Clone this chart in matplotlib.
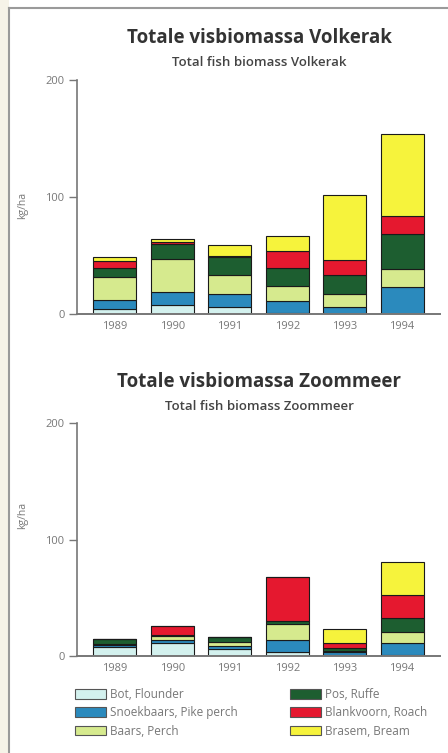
import matplotlib.pyplot as plt
from matplotlib.patches import Patch, Rectangle
from matplotlib.lines import Line2D
import numpy as np

years = ["1989", "1990", "1991", "1992", "1993", "1994"]
species = ["Bot, Flounder", "Snoekbaars, Pike perch", "Baars, Perch",
           "Pos, Ruffe", "Blankvoorn, Roach", "Brasem, Bream"]
colors = ["#d3f1ee", "#2b8abd", "#d6ea8e", "#1d5e30", "#e5182f", "#f6f33c"]

# kg/ha per species, bottom to top of stack
volkerak = {
    "Bot, Flounder":          [4.0, 7.7, 5.7, 0.5, 0.3, 0.3],
    "Snoekbaars, Pike perch": [8.0, 11.0, 11.0, 11.0, 5.4, 22.6],
    "Baars, Perch":           [20.0, 28.5, 17.0, 12.3, 11.4, 15.7],
    "Pos, Ruffe":             [7.0, 13.0, 14.6, 15.7, 16.3, 30.0],
    "Blankvoorn, Roach":      [6.0, 1.5, 1.0, 14.0, 13.0, 15.0],
    "Brasem, Bream":          [4.0, 2.3, 10.0, 13.0, 55.7, 70.6],
}
zoommeer = {
    "Bot, Flounder":          [7.5, 11.4, 5.7, 3.4, 0.5, 1.0],
    "Snoekbaars, Pike perch": [2.0, 2.5, 3.0, 10.3, 3.0, 10.4],
    "Baars, Perch":           [1.0, 3.5, 3.7, 13.4, 0.5, 9.5],
    "Pos, Ruffe":             [4.0, 1.0, 3.7, 3.2, 3.0, 11.4],
    "Blankvoorn, Roach":      [0.0, 7.0, 0.0, 37.7, 4.5, 20.0],
    "Brasem, Bream":          [0.0, 0.0, 0.0, 0.0, 11.5, 28.6],
}

W, H = 448, 753
fig = plt.figure(figsize=(W / 100, H / 100), dpi=100)
fig.patch.set_facecolor("white")
plt.rcParams["font.family"] = ["Open Sans", "DejaVu Sans"]

# scanned page frame
fig.patches.append(Rectangle((0, 0), 9 / W, 1, transform=fig.transFigure,
                             facecolor="#f6f3e8", edgecolor="none", zorder=0))
fig.lines.append(Line2D([9 / W, 9 / W], [0, 1 - 8 / H], transform=fig.transFigure,
                        color="#9a9a9a", lw=1.5))
fig.lines.append(Line2D([9 / W, 1], [1 - 8 / H, 1 - 8 / H], transform=fig.transFigure,
                        color="#9a9a9a", lw=1.5))


def draw(ax, data):
    x = np.arange(len(years))
    bottom = np.zeros(len(years))
    for sp, col in zip(species, colors):
        vals = np.array(data[sp])
        ax.bar(x, vals, bottom=bottom, width=0.75, color=col,
               edgecolor="#1a1a1a", linewidth=0.8)
        bottom += vals
    ax.set_xlim(-0.66, 5.66)
    ax.set_ylim(0, 200)
    ax.set_yticks([0, 100, 200])
    ax.set_xticks(x)
    ax.set_xticklabels(years)
    for s in ["top", "right"]:
        ax.spines[s].set_visible(False)
    ax.spines["left"].set_color("#777777")
    ax.spines["bottom"].set_color("#777777")
    ax.spines["left"].set_linewidth(1.2)
    ax.spines["bottom"].set_linewidth(1.4)
    ax.tick_params(axis="y", direction="out", length=6, width=1, color="#777777",
                   labelsize=8, labelcolor="#777777", pad=3)
    ax.tick_params(axis="x", length=0, labelsize=8, labelcolor="#777777", pad=5)
    ax.set_facecolor("none")


def ax_rect(y_top_px, y_zero_px):
    left = 77 / W
    right = 440 / W
    b = 1 - y_zero_px / H
    t = 1 - y_top_px / H
    return [left, b, right - left, t - b]


ax1 = fig.add_axes(ax_rect(80, 314))
draw(ax1, volkerak)
ax2 = fig.add_axes(ax_rect(423, 656))
draw(ax2, zoommeer)

fig.text(259 / W, 1 - 38 / H, "Totale visbiomassa Volkerak", ha="center", va="center",
         fontsize=13.5, fontweight="bold", color="#333333")
fig.text(259 / W, 1 - 62 / H, "Total fish biomass Volkerak", ha="center", va="center",
         fontsize=9.5, fontweight="semibold", color="#444444")
fig.text(259 / W, 1 - 382 / H, "Totale visbiomassa Zoommeer", ha="center", va="center",
         fontsize=13.5, fontweight="bold", color="#333333")
fig.text(259 / W, 1 - 406 / H, "Total fish biomass Zoommeer", ha="center", va="center",
         fontsize=9.5, fontweight="semibold", color="#444444")

fig.text(23 / W, 1 - 205 / H, "kg/ha", rotation=90, ha="center", va="center",
         fontsize=7.5, color="#777777")
fig.text(23 / W, 1 - 515 / H, "kg/ha", rotation=90, ha="center", va="center",
         fontsize=7.5, color="#777777")

handles = [Patch(facecolor=c, edgecolor="#555555", linewidth=0.8, label=s)
           for s, c in zip(species, colors)]
for i, xpx in enumerate([75, 290]):
    leg = fig.legend(handles=handles[3 * i:3 * i + 3], loc="upper left",
                     bbox_to_anchor=(xpx / W, 1 - 688 / H), frameon=False,
                     fontsize=8.5, handlelength=2.6, handleheight=0.9,
                     handletextpad=0.35, labelspacing=0.45, borderaxespad=0,
                     borderpad=0)
    for t in leg.get_texts():
        t.set_color("#777777")

fig.savefig("out.png", dpi=100)
